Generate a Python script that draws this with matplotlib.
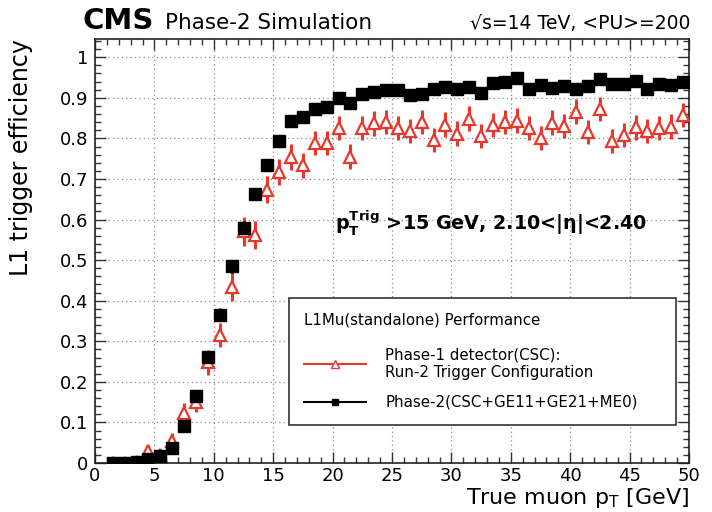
import matplotlib
matplotlib.use("Agg")
import matplotlib.pyplot as plt
from matplotlib.lines import Line2D
from matplotlib.ticker import MultipleLocator
import numpy as np

# L1 muon trigger efficiency vs true muon pT (1 GeV bins, centres at 1.5 ... 49.5)
pt_bins = np.arange(1.5, 50.0, 1.0)

eff_phase2 = [0.0, 0.0, 0.002, 0.010, 0.018, 0.038, 0.091, 0.164, 0.261, 0.365,
              0.485, 0.580, 0.662, 0.734, 0.794, 0.842, 0.853, 0.872, 0.878, 0.900,
              0.888, 0.909, 0.915, 0.919, 0.919, 0.907, 0.909, 0.923, 0.927, 0.921,
              0.927, 0.913, 0.937, 0.938, 0.948, 0.923, 0.932, 0.925, 0.930, 0.923,
              0.930, 0.946, 0.934, 0.934, 0.942, 0.923, 0.934, 0.932, 0.938]
err_phase2 = [0.004, 0.004, 0.004, 0.006, 0.008, 0.010, 0.012, 0.014, 0.015, 0.016,
              0.016, 0.016, 0.015, 0.014, 0.013, 0.012, 0.012, 0.011, 0.011, 0.010,
              0.010, 0.010, 0.010, 0.010, 0.010, 0.010, 0.010, 0.010, 0.010, 0.010,
              0.010, 0.010, 0.010, 0.010, 0.010, 0.010, 0.010, 0.010, 0.010, 0.010,
              0.010, 0.010, 0.010, 0.010, 0.010, 0.010, 0.010, 0.010, 0.010]

eff_phase1 = [0.0, 0.0, 0.002, 0.029, 0.020, 0.053, 0.122, 0.150, 0.248, 0.316,
              0.435, 0.571, 0.562, 0.674, 0.718, 0.754, 0.734, 0.788, 0.789, 0.825,
              0.755, 0.825, 0.837, 0.841, 0.825, 0.819, 0.841, 0.796, 0.834, 0.812,
              0.849, 0.806, 0.833, 0.841, 0.844, 0.825, 0.801, 0.839, 0.831, 0.866,
              0.816, 0.872, 0.794, 0.808, 0.827, 0.819, 0.825, 0.829, 0.858]
err_phase1 = [0.008, 0.008, 0.008, 0.015, 0.015, 0.020, 0.025, 0.025, 0.030, 0.030,
              0.035, 0.035, 0.035, 0.033, 0.032, 0.031, 0.031, 0.030, 0.030, 0.030,
              0.030, 0.030, 0.030, 0.030, 0.030, 0.030, 0.030, 0.030, 0.030, 0.030,
              0.030, 0.030, 0.030, 0.030, 0.030, 0.030, 0.030, 0.030, 0.030, 0.030,
              0.030, 0.030, 0.030, 0.030, 0.030, 0.030, 0.030, 0.030, 0.030]

label_phase1 = "Phase-1 detector(CSC):\nRun-2 Trigger Configuration"
label_phase2 = "Phase-2(CSC+GE11+GE21+ME0)"
ytick_vals = [0, 0.1, 0.2, 0.3, 0.4, 0.5, 0.6, 0.7, 0.8, 0.9, 1.0]
ytick_text = ["0", "0.1", "0.2", "0.3", "0.4", "0.5", "0.6", "0.7", "0.8", "0.9", "1"]

plt.rcParams['font.family'] = ['DejaVu Sans']

fig = plt.figure(figsize=(7.12, 5.12), dpi=100)
ax = fig.add_axes([95/712, 49/512, 594/712, 424/512])

red = '#e8382d'
# phase-1: open triangles, error bar drawn behind the marker
ax.errorbar(pt_bins, eff_phase1, yerr=err_phase1, fmt='none', ecolor=red,
            elinewidth=2.2, capsize=0, zorder=3)
ax.plot(pt_bins, eff_phase1, ls='none', marker='^', ms=8.5, mfc='white',
        mec=red, mew=1.6, zorder=4)
# phase-2: filled squares
ax.errorbar(pt_bins, eff_phase2, yerr=err_phase2, fmt='none', ecolor='black',
            elinewidth=2.0, capsize=0, zorder=5)
ax.plot(pt_bins, eff_phase2, ls='none', marker='s', ms=8, mfc='black',
        mec='black', zorder=6)

ax.set_xlim(0, 50)
ax.set_ylim(0, 1.045)
ax.xaxis.set_major_locator(MultipleLocator(5))
ax.xaxis.set_minor_locator(MultipleLocator(1))
ax.set_yticks(ytick_vals)
ax.set_yticklabels(ytick_text)
ax.yaxis.set_minor_locator(MultipleLocator(0.02))
ax.tick_params(which='both', direction='in', top=True, right=True,
               labelsize=13, width=1.0, color='#333333')
ax.tick_params(which='major', length=8)
ax.tick_params(which='minor', length=4)
ax.tick_params(axis='x', pad=3)
ax.tick_params(axis='y', pad=5)
for s in ax.spines.values():
    s.set_linewidth(1.2)
    s.set_color('#222222')
ax.grid(True, which='major', color='#888888', linestyle=(0, (1, 2.5)), linewidth=0.9)
ax.set_axisbelow(True)

ax.set_xlabel(r"True muon p$_\mathrm{T}$ [GeV]", fontsize=16, loc='right')
ax.xaxis.set_label_coords(1.0, -0.055)
ax.set_ylabel("L1 trigger efficiency", fontsize=17, loc='top')
ax.yaxis.set_label_coords(-0.105, 1.0)

ax.text(20.2, 0.59, r"$\mathbf{p_{T}^{Trig}}$ >15 GeV, 2.10<|η|<2.40",
        fontsize=13.8, fontweight='bold', va='center', ha='left')

handles = [Line2D([], [], color=red, lw=1.5, marker='^', ms=6, mfc='white', mec=red),
           Line2D([], [], color='black', lw=1.5, marker='s', ms=5, mfc='black')]
leg = ax.legend(handles, [label_phase1, label_phase2],
                title="L1Mu(standalone) Performance", alignment='left',
                loc='lower left', bbox_to_anchor=(0.327, 0.09, 0.651, 0.306),
                mode='expand', borderaxespad=0, fontsize=10.8, title_fontsize=10.8,
                handlelength=4.1, handletextpad=1.3, labelspacing=1.0,
                borderpad=1.0, fancybox=False, framealpha=1,
                edgecolor='#333333')
leg.get_frame().set_linewidth(1.2)
leg._legend_box.sep = 14

fig.text(83/712, 1 - 29/512, "CMS", fontsize=21, fontweight='bold', va='baseline')
fig.text(165/712, 1 - 29/512, "Phase-2 Simulation", fontsize=15.5, va='baseline')
fig.text(690/712, 1 - 29/512, "√s=14 TeV, <PU>=200", fontsize=13.5, va='baseline',
         ha='right')

fig.savefig("out.png", dpi=100)
